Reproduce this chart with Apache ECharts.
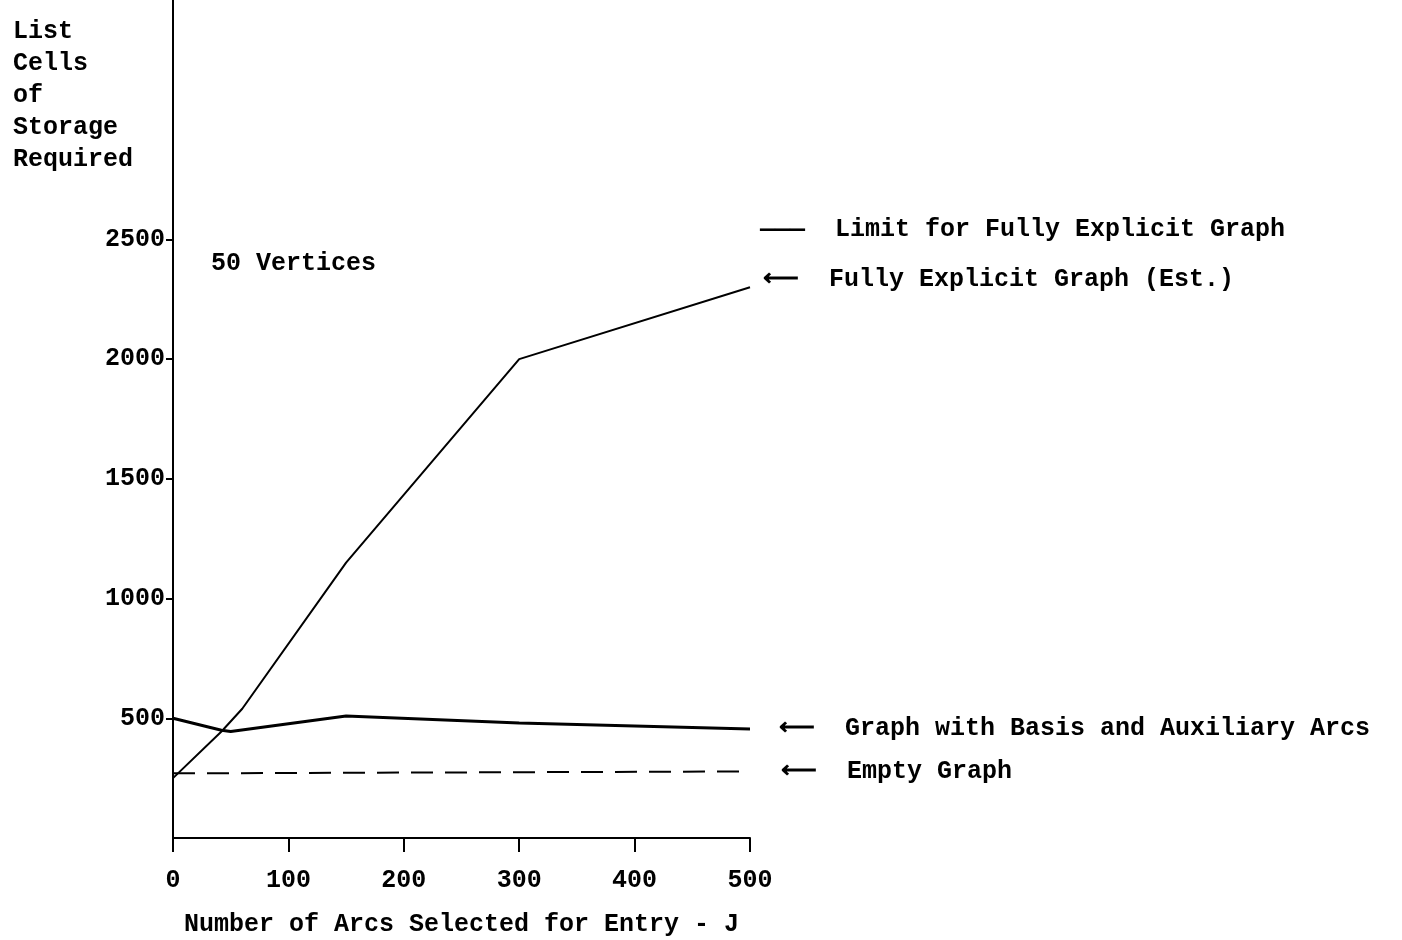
<!DOCTYPE html>
<html>
<head>
<meta charset="utf-8">
<script src="https://cdn.jsdelivr.net/npm/echarts@6/dist/echarts.min.js"></script>
<style>
  html, body { margin: 0; padding: 0; background: #fff; }
  #main { width: 1402px; height: 940px; }
</style>
</head>
<body>
<div id="main"></div>
<script>
// arcs selected for entry (J) vs list cells of storage, 50 vertices
var fullyExplicit = [[0, 250], [42, 445], [60, 540], [150, 1150], [300, 2000], [500, 2300]];
var basisAux = [[0, 500], [42, 450], [50, 445], [150, 510], [300, 480], [500, 455]];
var emptyGraph = [[0, 270], [500, 278]];
var yLabels = [500, 1000, 1500, 2000, 2500];

var FONT = 'Liberation Mono';
var myChart = echarts.init(document.getElementById('main'));

var option = {
    backgroundColor: '#fff',
    animation: false,
    title: [{
        text: 'List\nCells\nof\nStorage\nRequired',
        left: 8,
        top: 11,
        textStyle: { fontFamily: FONT, fontWeight: 'bold', fontSize: 25, lineHeight: 32, color: '#000' }
    }, {
        text: '50 Vertices',
        left: 206,
        top: 246,
        textStyle: { fontFamily: FONT, fontWeight: 'bold', fontSize: 25, color: '#000' }
    }, {
        text: '\u2014\u2014\u2014  Limit for Fully Explicit Graph',
        left: 755,
        top: 212,
        textStyle: { fontFamily: FONT, fontWeight: 'bold', fontSize: 25, color: '#000' }
    }],
    grid: { left: 173, right: 652, top: 0, bottom: 102, containLabel: false, outerBoundsMode: 'none' },
    xAxis: {
        type: 'value',
        min: 0,
        max: 500,
        interval: 100,
        name: 'Number of Arcs Selected for Entry - J',
        nameLocation: 'middle',
        nameGap: 74,
        nameTextStyle: { fontFamily: FONT, fontWeight: 'bold', fontSize: 25, color: '#000' },
        splitLine: { show: false },
        axisLine: { lineStyle: { color: '#000', width: 2 } },
        axisTick: { length: 14, lineStyle: { color: '#000', width: 2 } },
        axisLabel: { margin: 30, fontFamily: FONT, fontWeight: 'bold', fontSize: 25, color: '#000' }
    },
    yAxis: {
        type: 'value',
        min: 0,
        max: 3500,
        interval: 500,
        splitLine: { show: false },
        axisLine: { show: true, lineStyle: { color: '#000', width: 2 } },
        axisTick: {
            length: 7,
            lineStyle: { color: '#000', width: 2 },
            customValues: yLabels
        },
        axisLabel: {
            margin: 8,
            fontFamily: FONT, fontWeight: 'bold', fontSize: 25, color: '#000',
            customValues: yLabels,
            formatter: function (v) { return String(v); }
        }
    },
    series: [{
        name: 'Fully Explicit Graph (Est.)',
        type: 'line',
        data: fullyExplicit,
        symbol: 'none',
        lineStyle: { color: '#000', width: 2 },
        endLabel: {
            show: true,
            formatter: '\u27F5  Fully Explicit Graph (Est.)',
            distance: 13,
            offset: [0, -8],
            fontFamily: FONT, fontWeight: 'bold', fontSize: 25, color: '#000'
        }
    }, {
        name: 'Graph with Basis and Auxiliary Arcs',
        type: 'line',
        data: basisAux,
        symbol: 'none',
        lineStyle: { color: '#000', width: 3 },
        endLabel: {
            show: true,
            formatter: '\u27F5  Graph with Basis and Auxiliary Arcs',
            distance: 29,
            fontFamily: FONT, fontWeight: 'bold', fontSize: 25, color: '#000'
        }
    }, {
        name: 'Empty Graph',
        type: 'line',
        data: emptyGraph,
        symbol: 'none',
        lineStyle: { color: '#000', width: 2, type: [22, 12] },
        endLabel: {
            show: true,
            formatter: '\u27F5  Empty Graph',
            distance: 31,
            fontFamily: FONT, fontWeight: 'bold', fontSize: 25, color: '#000'
        }
    }]
};

myChart.setOption(option);
</script>
</body>
</html>
